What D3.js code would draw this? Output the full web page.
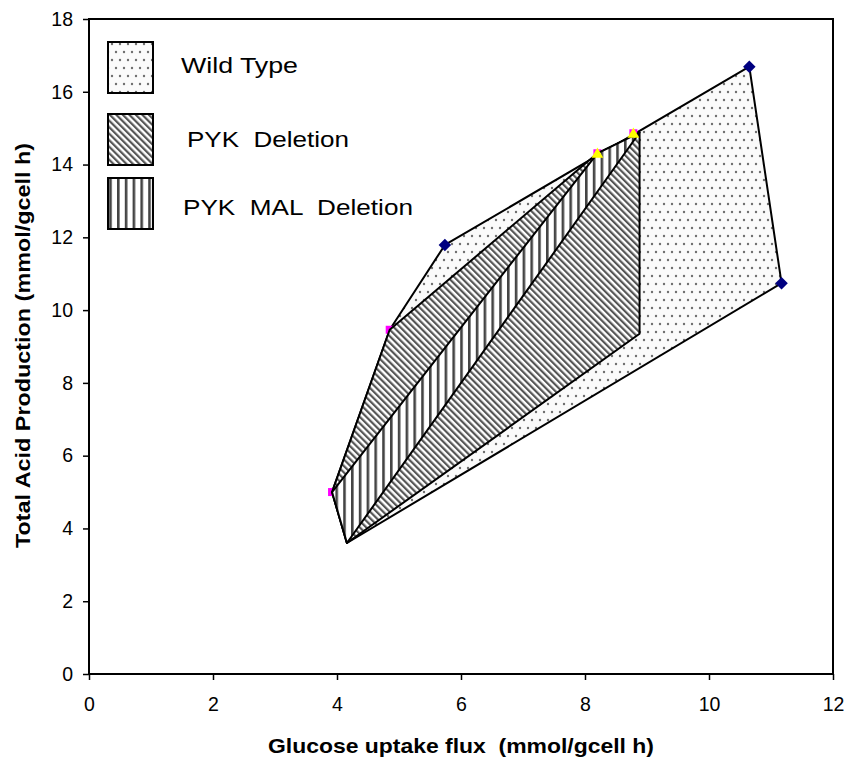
<!DOCTYPE html>
<html>
<head>
<meta charset="utf-8">
<script src="https://cdn.jsdelivr.net/npm/d3@7"></script>
<style>
  html, body { margin: 0; padding: 0; background: #fff; }
  svg { display: block; font-family: "Liberation Sans", Arial, sans-serif; }
</style>
</head>
<body>
<svg id="chart" width="850" height="763"></svg>
<script>
// Feasible regions: glucose uptake flux (x) vs total acid production (y)
const wildType = [
  [4.16, 3.6], [3.92, 5.0], [4.85, 9.46], [5.74, 11.79], [10.65, 16.69], [11.17, 10.74]
];
const pykDeletion = [
  [3.92, 5.0], [4.85, 9.46], [8.2, 14.31], [8.88, 14.88], [8.88, 9.35], [4.16, 3.6]
];
const pykMalDeletion = [
  [3.92, 5.0], [8.2, 14.31], [8.88, 14.88], [4.16, 3.6]
];
const wtMarkers = [[5.74, 11.79], [10.65, 16.69], [11.17, 10.74]];
const pykMarkers = [[3.92, 5.0], [4.85, 9.46], [8.2, 14.31], [8.78, 14.86]];
const malMarkers = [[8.2, 14.31], [8.78, 14.86]];

const legendLabels = ["Wild Type", "PYK  Deletion", "PYK  MAL  Deletion"];
const xTicks = [0, 2, 4, 6, 8, 10, 12];
const yTicks = [0, 2, 4, 6, 8, 10, 12, 14, 16, 18];

const svg = d3.select("#chart");
const x = d3.scaleLinear().domain([0, 12]).range([89, 833]);
const y = d3.scaleLinear().domain([0, 18]).range([674, 19]);

// Fill patterns
const defs = svg.append("defs");
const dots = defs.append("pattern").attr("id", "dots")
  .attr("patternUnits", "userSpaceOnUse").attr("width", 16).attr("height", 16);
dots.append("rect").attr("width", 16).attr("height", 16).attr("fill", "#fafafa");
[[4, 4], [12, 4], [0, 12], [8, 12], [16, 12]].forEach(([cx, cy]) =>
  dots.append("circle").attr("cx", cx).attr("cy", cy).attr("r", 1.2).attr("fill", "#6e6e6e"));

const diag = defs.append("pattern").attr("id", "diag")
  .attr("patternUnits", "userSpaceOnUse").attr("width", 4.6).attr("height", 10)
  .attr("patternTransform", "rotate(-45)");
diag.append("rect").attr("width", 4.6).attr("height", 10).attr("fill", "#fff");
diag.append("rect").attr("x", 0).attr("width", 2.2).attr("height", 10).attr("fill", "#555");

const vert = defs.append("pattern").attr("id", "vert")
  .attr("patternUnits", "userSpaceOnUse").attr("width", 7.8).attr("height", 10);
vert.append("rect").attr("width", 7.8).attr("height", 10).attr("fill", "#fff");
vert.append("rect").attr("x", 0).attr("width", 2.6).attr("height", 10).attr("fill", "#444");

const line = d3.line().x(d => x(d[0])).y(d => y(d[1]));
const closed = pts => line(pts) + "Z";

// Axes
const xAxis = d3.axisBottom(x).tickValues(xTicks).tickSize(6).tickPadding(17);
const yAxis = d3.axisLeft(y).tickValues(yTicks).tickSize(6).tickPadding(10);
const gx = svg.append("g").attr("transform", "translate(0,674)").call(xAxis);
const gy = svg.append("g").attr("transform", "translate(89,0)").call(yAxis);
[gx, gy].forEach(g => {
  g.selectAll("path").remove();
  g.selectAll("line").attr("stroke", "#000").attr("stroke-width", 1.5);
  g.selectAll("text").attr("font-size", 19.5).attr("fill", "#000")
    .attr("font-family", "'Liberation Sans', Arial, sans-serif");
});

// Plot-area frame
svg.append("rect").attr("x", x(0)).attr("y", y(18))
  .attr("width", x(12) - x(0)).attr("height", y(0) - y(18))
  .attr("fill", "none").attr("stroke", "#000").attr("stroke-width", 2);

// Regions
svg.append("path").attr("d", closed(wildType)).attr("fill", "url(#dots)")
  .attr("stroke", "#000").attr("stroke-width", 2).attr("stroke-linejoin", "round");

const square = d3.symbol().type(d3.symbolSquare).size(64);
svg.selectAll(".pm").data(pykMarkers).join("path")
  .attr("d", square).attr("fill", "#ff00ff")
  .attr("transform", d => `translate(${x(d[0])},${y(d[1])})`);

svg.append("path").attr("d", closed(pykDeletion)).attr("fill", "url(#diag)")
  .attr("stroke", "#000").attr("stroke-width", 2).attr("stroke-linejoin", "round");
svg.append("path").attr("d", closed(pykMalDeletion)).attr("fill", "url(#vert)")
  .attr("stroke", "#000").attr("stroke-width", 2).attr("stroke-linejoin", "round");

const tri = d3.symbol().type(d3.symbolTriangle).size(60);
svg.selectAll(".mm").data(malMarkers).join("path")
  .attr("d", tri).attr("fill", "#ffff00")
  .attr("transform", d => `translate(${x(d[0])},${y(d[1]) + 1})`);

const diamond = d3.symbol().type(d3.symbolDiamond2).size(100);
svg.selectAll(".wm").data(wtMarkers).join("path")
  .attr("d", diamond).attr("fill", "#000080")
  .attr("transform", d => `translate(${x(d[0])},${y(d[1])})`);

// Legend
const legendFills = ["url(#dots)", "url(#diag)", "url(#vert)"];
const legendBoxY = [42, 114, 178];
const legendTextX = [181, 187, 183];
const legendBaseline = [72.5, 147, 215];
const legendWidth = [117, 162, 230];
legendLabels.forEach((lab, i) => {
  svg.append("rect").attr("x", 108).attr("y", legendBoxY[i]).attr("width", 45).attr("height", 51)
    .attr("fill", legendFills[i]).attr("stroke", "#000").attr("stroke-width", 2);
  svg.append("text").attr("x", legendTextX[i]).attr("y", legendBaseline[i])
    .attr("font-size", 22).attr("fill", "#000").style("white-space", "pre")
    .attr("textLength", legendWidth[i]).attr("lengthAdjust", "spacingAndGlyphs")
    .text(lab);
});

// Axis titles
svg.append("text").attr("x", 268).attr("y", 753)
  .attr("font-size", 21).attr("font-weight", "bold").style("white-space", "pre")
  .attr("textLength", 386).attr("lengthAdjust", "spacingAndGlyphs")
  .text("Glucose uptake flux  (mmol/gcell h)");
svg.append("text").attr("transform", "translate(30,548) rotate(-90)")
  .attr("font-size", 21).attr("font-weight", "bold")
  .attr("textLength", 405).attr("lengthAdjust", "spacingAndGlyphs")
  .text("Total Acid Production (mmol/gcell h)");
</script>
</body>
</html>
